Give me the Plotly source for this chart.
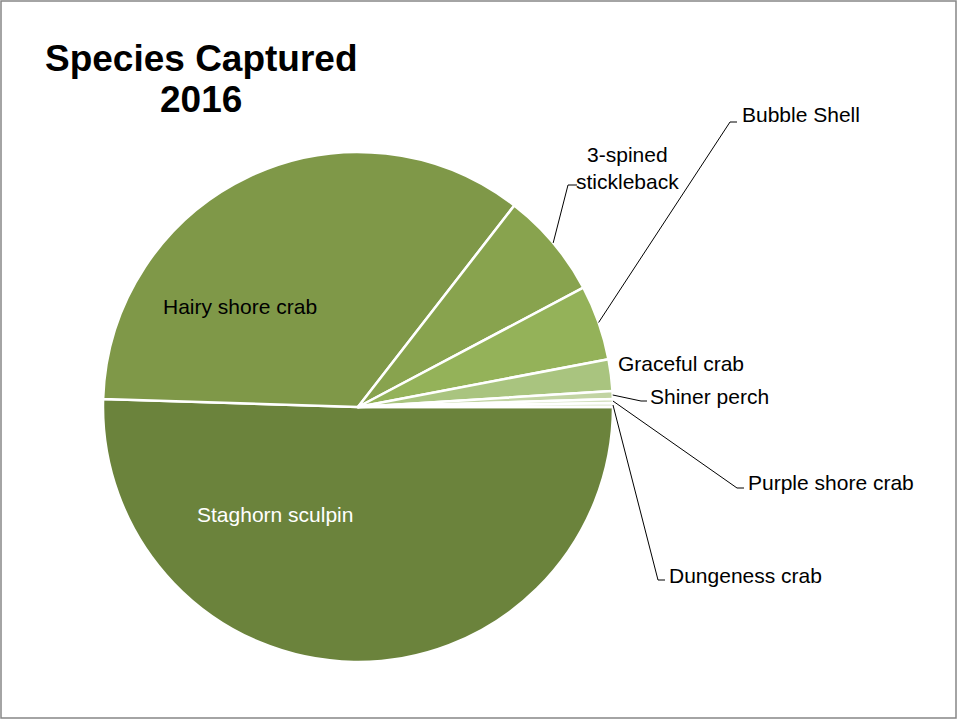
import math
import plotly.graph_objects as go

# data (fish / crab counts, 2016)
species = ["Staghorn sculpin", "Hairy shore crab", "3-spined<br>stickleback", "Bubble Shell",
           "Graceful crab", "Shiner perch", "Purple shore crab", "Dungeness crab"]
counts = [202, 140, 27, 19, 8, 2, 1, 1]
colors = ["#6B833C", "#7F9848", "#88A34E", "#94B259", "#A9C47F", "#C2D4A3", "#D4E1BF", "#E3EBD6"]

title_lines = ["Species Captured", "2016"]

W, H = 960, 720
cx, cy, r = 358, 407, 255  # pie centre and radius in pixels

# label placement: (x, y, xanchor, font colour, elbow point of leader line or None)
label_pos = [
    (275, 514, "center", "white", None),
    (240, 306, "center", "black", None),
    (627, 168, "center", "black", (568, 185, 577)),
    (740, 115, "left", "black", (730, 122, 737)),
    (616, 363, "left", "black", None),
    (648, 396, "left", "black", (641, 401, 647)),
    (746, 483, "left", "black", (737, 488, 744)),
    (667, 575, "left", "black", (658, 580, 665)),
]


def paper(x, y):
    return x / W, 1 - y / H


fig = go.Figure(go.Pie(
    labels=species,
    values=counts,
    sort=False,
    direction="clockwise",
    rotation=90,
    marker=dict(colors=colors, line=dict(color="white", width=2.5)),
    textinfo="none",
    hoverinfo="label+value",
    domain=dict(x=[(cx - r) / W, (cx + r) / W], y=[1 - (cy + r) / H, 1 - (cy - r) / H]),
))

annotations = []
shapes = []
total = sum(counts)
cum = 0
for name, v, pos in zip(species, counts, label_pos):
    mid = (cum + v / 2) / total * 2 * math.pi
    cum += v
    lx, ly, anchor, fcol, elbow = pos
    px, py = paper(lx, ly)
    annotations.append(dict(
        x=px, y=py, xref="paper", yref="paper", text=name, showarrow=False,
        xanchor=anchor, yanchor="middle", align="center",
        font=dict(family="Arial, Liberation Sans", size=21, color=fcol),
    ))
    if elbow:
        sx, sy = paper(cx + r * math.cos(mid), cy + r * math.sin(mid))
        ex, ey = paper(elbow[0], elbow[1])
        tx, _ = paper(elbow[2], elbow[1])
        shapes.append(dict(type="path", xref="paper", yref="paper",
                           path=f"M {sx},{sy} L {ex},{ey} L {tx},{ey}",
                           line=dict(color="black", width=1)))

# title, two lines
for txt, ty in zip(title_lines, [58, 100]):
    tx, tyy = paper(201, ty)
    annotations.append(dict(
        x=tx, y=tyy, xref="paper", yref="paper", text=f"<b>{txt}</b>", showarrow=False,
        xanchor="center", yanchor="middle",
        font=dict(family="Arial, Liberation Sans", size=37, color="black"),
    ))

# grey frame round the chart area
shapes.append(dict(type="rect", xref="paper", yref="paper",
                   x0=1 / W, x1=956 / W, y0=1 - 718 / H, y1=1 - 1 / H,
                   line=dict(color="#868686", width=1.5)))

fig.update_layout(
    width=W, height=H,
    margin=dict(l=0, r=0, t=0, b=0),
    paper_bgcolor="white",
    showlegend=False,
    annotations=annotations,
    shapes=shapes,
)

# page margin off so the figure sits at the window corner
fig.write_html("out.html", config={"displayModeBar": False},
               post_script="document.body.style.margin='0';")
